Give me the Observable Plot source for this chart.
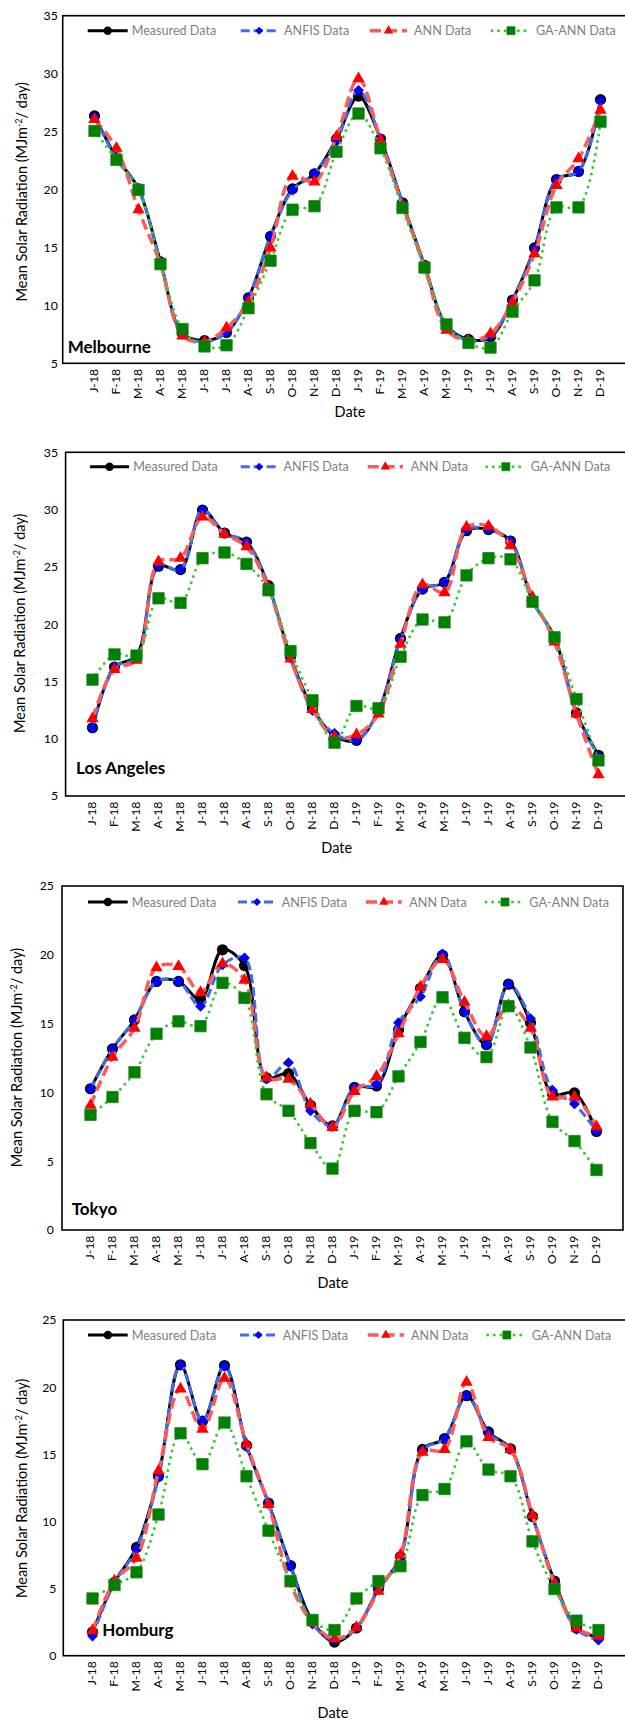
<!DOCTYPE html>
<html>
<head>
<meta charset="utf-8">
<script src="https://cdn.jsdelivr.net/npm/d3@7"></script>
<script src="https://cdn.jsdelivr.net/npm/@observablehq/plot@0.6"></script>
<style>
  html, body { margin: 0; padding: 0; background: #fff; }
  body { width: 625px; height: 1720px; overflow: hidden; position: relative; }
  #chart { position: relative; width: 625px; height: 1720px; }
  #chart svg { position: absolute; left: 0; }
</style>
</head>
<body>
<div id="chart"></div>
<script>
// Month ticks, January 2018 to December 2019
const monthLabels = ["J-18","F-18","M-18","A-18","M-18","J-18","J-18","A-18","S-18","O-18","N-18","D-18",
                     "J-19","F-19","M-19","A-19","M-19","J-19","J-19","A-19","S-19","O-19","N-19","D-19"];
const seriesNames = ["Measured Data", "ANFIS Data", "ANN Data", "GA-ANN Data"];
const cityNames = ["Melbourne", "Los Angeles", "Tokyo", "Homburg"];

// Monthly mean solar radiation (MJ m^-2 / day)
const melbourneMeasured = [26.4, 22.8, 20.1, 13.8, 7.6, 7.0, 7.7, 10.7, 16.0, 20.1, 21.4, 24.4, 28.1, 24.4, 18.9, 13.5, 8.3, 7.1, 7.3, 10.5, 15.0, 20.9, 21.6, 27.8];
const melbourneAnfis    = [26.3, 22.7, 20.1, 13.8, 7.6, 6.9, 7.7, 10.7, 16.0, 20.0, 21.4, 24.2, 28.6, 24.4, 18.9, 13.4, 8.3, 7.0, 7.4, 10.5, 14.9, 20.9, 21.6, 27.7];
const melbourneAnn      = [26.1, 23.6, 18.3, 13.6, 7.4, 6.9, 8.1, 10.3, 15.0, 21.2, 20.7, 24.6, 29.6, 24.3, 18.7, 13.4, 7.9, 7.0, 7.6, 10.3, 14.5, 20.4, 22.7, 26.9];
const melbourneGaAnn    = [25.1, 22.6, 20.0, 13.6, 8.0, 6.5, 6.6, 9.8, 13.9, 18.3, 18.6, 23.3, 26.6, 23.6, 18.45, 13.3, 8.4, 6.8, 6.4, 9.5, 12.2, 18.5, 18.5, 25.9];

const laMeasured = [11.0, 16.3, 17.3, 25.1, 24.8, 30.0, 28.0, 27.2, 23.4, 17.2, 12.7, 10.3, 9.9, 12.5, 18.8, 23.1, 23.7, 28.2, 28.3, 27.3, 22.1, 18.9, 12.3, 8.6];
const laAnfis    = [11.0, 16.3, 17.1, 25.1, 24.8, 30.0, 28.0, 27.2, 23.3, 17.1, 12.5, 10.5, 9.9, 12.5, 18.7, 23.1, 23.7, 28.3, 28.3, 27.3, 22.1, 18.8, 12.2, 8.5];
const laAnn      = [11.8, 16.1, 16.9, 25.5, 25.8, 29.4, 27.9, 26.8, 23.2, 17.0, 12.6, 10.2, 10.4, 12.2, 18.3, 23.5, 22.8, 28.5, 28.6, 26.9, 22.4, 18.5, 12.2, 6.9];
const laGaAnn    = [15.2, 17.4, 17.3, 22.3, 21.9, 25.8, 26.3, 25.3, 23.0, 17.7, 13.4, 9.7, 12.9, 12.7, 17.2, 20.45, 20.2, 24.3, 25.8, 25.7, 22.0, 18.9, 13.5, 8.15];

const tokyoMeasured = [10.3, 13.2, 15.3, 18.1, 18.1, 16.8, 20.4, 19.25, 11.1, 11.4, 9.1, 7.6, 10.4, 10.5, 14.6, 17.6, 20.0, 15.9, 13.5, 17.9, 15.1, 9.9, 10.0, 7.2];
const tokyoAnfis    = [10.3, 13.2, 15.3, 18.1, 18.1, 16.3, 19.3, 19.8, 11.0, 12.2, 8.7, 7.6, 10.4, 10.6, 15.1, 17.0, 20.1, 15.9, 13.5, 17.9, 15.4, 10.2, 9.2, 7.2];
const tokyoAnn      = [9.1, 12.6, 14.7, 19.1, 19.2, 17.3, 19.4, 18.2, 11.1, 11.0, 9.2, 7.5, 10.1, 11.2, 14.3, 17.7, 19.7, 16.6, 14.1, 16.35, 14.7, 9.7, 9.7, 7.55];
const tokyoGaAnn    = [8.4, 9.7, 11.5, 14.3, 15.2, 14.85, 18.0, 16.9, 9.9, 8.7, 6.35, 4.5, 8.7, 8.6, 11.2, 13.7, 16.95, 14.0, 12.6, 16.3, 13.3, 7.9, 6.5, 4.4];

const homburgMeasured = [1.8, 5.5, 8.1, 13.4, 21.7, 17.5, 21.65, 15.7, 11.4, 6.75, 2.6, 1.05, 2.1, 5.0, 7.4, 15.4, 16.2, 19.4, 16.7, 15.45, 10.4, 5.6, 2.1, 1.4];
const homburgAnfis    = [1.5, 5.5, 8.0, 13.3, 21.7, 17.5, 21.6, 15.6, 11.4, 6.7, 2.4, 1.2, 2.1, 5.0, 7.4, 15.3, 16.2, 19.4, 16.6, 15.4, 10.4, 5.5, 2.0, 1.2];
const homburgAnn      = [1.9, 5.6, 7.3, 13.8, 19.9, 16.9, 20.7, 15.8, 11.3, 5.4, 2.5, 1.3, 2.15, 4.85, 7.55, 15.2, 15.4, 20.4, 16.3, 15.4, 10.5, 5.4, 2.1, 1.5];
const homburgGaAnn    = [4.3, 5.3, 6.25, 10.55, 16.6, 14.3, 17.4, 13.4, 9.35, 5.6, 2.7, 1.95, 4.3, 5.6, 6.7, 12.0, 12.45, 16.0, 13.9, 13.4, 8.55, 5.0, 2.65, 1.95];

// Line and marker styling for each series
const seriesStyles = [
  {stroke: "#000000", width: 3,   dash: null,    cap: "butt",  symbol: "circle",   fill: "#000000", r: 5.6, legendR: 4.2},
  {stroke: "#3d6cf4", width: 3,   dash: "9,4",   cap: "butt",  symbol: "diamond2", fill: "#0000ff", r: 4.9, legendR: 3.6},
  {stroke: "#ff5a5a", width: 3.5, dash: "11,5",  cap: "butt",  symbol: "triangle", fill: "#ff0000", r: 4.6, legendR: 3.5},
  {stroke: "#33cc33", width: 3,   dash: "0,6.6", cap: "round", symbol: "square",   fill: "#008000", r: 6.4, legendR: 4.6, mstroke: "#1f7f1f"}
];

// Panel layout (page coordinates)
const panels = [
  {top: 0, height: 430, frame: {l: 62.7, t: 15.7, b: 363.3, r: 631}, xr: [74, 619.3], yd: [5, 35], yPad: 5.4,
   legendY: 30.7, legend: [[87.7, 127.7, 131.7], [240.7, 277.7, 284], [370, 407, 414], [492, 530, 536]],
   city: [67.7, 352.5], date: [350, 416.5], ylab: [21.7, 191.7],
   data: [melbourneMeasured, melbourneAnfis, melbourneAnn, melbourneGaAnn]},
  {top: 430, height: 430, frame: {l: 65.6, t: 452.3, b: 796, r: 628}, xr: [77.3, 613.3], yd: [5, 35], yPad: 8,
   legendY: 466.7, legend: [[90, 129, 133.3], [240.7, 277.7, 283.5], [367.7, 403, 410.7], [486.7, 525, 530.7]],
   city: [76, 774], date: [336.7, 853], ylab: [20, 623.3],
   data: [laMeasured, laAnfis, laAnn, laGaAnn]},
  {top: 860, height: 435, frame: {l: 62, t: 886, b: 1230, r: 623}, xr: [74, 611.7], yd: [0, 25], yPad: 8.5,
   legendY: 902, legend: [[88, 127.7, 131.7], [238, 276, 281.7], [366, 401.7, 409.3], [486, 524, 529.3]],
   city: [71.7, 1215], date: [333, 1288], ylab: [16.7, 1057.5],
   data: [tokyoMeasured, tokyoAnfis, tokyoAnn, tokyoGaAnn]},
  {top: 1295, height: 425, frame: {l: 63.3, t: 1320, b: 1655.7, r: 629}, xr: [75, 615], yd: [0, 25], yPad: 7.3,
   legendY: 1335, legend: [[88, 127.7, 131.7], [240, 277, 282.7], [367.7, 404, 411], [487.7, 526, 531.7]],
   city: [102.3, 1635.5], date: [333, 1718], ylab: [21.7, 1488.3],
   data: [homburgMeasured, homburgAnfis, homburgAnn, homburgGaAnn]}
];

const fontFamily = "Lato, 'Open Sans', sans-serif";
const chart = document.getElementById("chart");

panels.forEach((p, k) => {
  const t0 = p.top;
  const marks = p.data.flatMap((vals, s) => {
    const st = seriesStyles[s];
    return [
      Plot.line(vals, {x: (d, i) => i, y: d => d, curve: "catmull-rom",
        stroke: st.stroke, strokeWidth: st.width, strokeDasharray: st.dash, strokeLinecap: st.cap}),
      Plot.dot(vals, {x: (d, i) => i, y: d => d, symbol: st.symbol, r: st.r,
        fill: st.fill, stroke: st.mstroke || "none", strokeWidth: 0.8})
    ];
  });

  const svg = Plot.plot({
    width: 625,
    height: p.height,
    marginLeft: p.frame.l,
    marginRight: 0,
    marginTop: p.frame.t - t0,
    marginBottom: p.height - (p.frame.b - t0),
    style: {fontFamily, fontSize: "12.3px", color: "#000", background: "transparent", overflow: "hidden"},
    x: {type: "point", domain: d3.range(monthLabels.length), range: p.xr,
        tickSize: 0, tickPadding: 5, tickRotate: -90, tickFormat: i => monthLabels[i], label: null},
    y: {domain: p.yd, range: [p.frame.b - t0, p.frame.t - t0],
        ticks: d3.range(p.yd[0], p.yd[1] + 1, 5), tickSize: 0, tickPadding: p.yPad, label: null},
    marks
  });
  svg.style.top = t0 + "px";
  chart.appendChild(svg);

  const g = d3.select(svg).append("g").attr("font-family", fontFamily);

  // plot-area border
  g.append("rect")
    .attr("x", p.frame.l).attr("y", p.frame.t - t0)
    .attr("width", p.frame.r - p.frame.l).attr("height", p.frame.b - p.frame.t)
    .attr("fill", "none").attr("stroke", "#000").attr("stroke-width", 1.6);

  // legend
  p.legend.forEach(([x1, x2, tx], s) => {
    const st = seriesStyles[s];
    const ly = p.legendY - t0;
    g.append("line").attr("x1", x1).attr("x2", x2).attr("y1", ly).attr("y2", ly)
      .attr("stroke", st.stroke).attr("stroke-width", st.width)
      .attr("stroke-dasharray", st.dash).attr("stroke-linecap", st.cap);
    const symbolType = {circle: d3.symbolCircle, diamond2: d3.symbolDiamond2, triangle: d3.symbolTriangle, square: d3.symbolSquare}[st.symbol];
    g.append("path")
      .attr("d", d3.symbol(symbolType, Math.PI * st.legendR * st.legendR)())
      .attr("transform", `translate(${(x1 + x2) / 2},${ly})`)
      .attr("fill", st.fill).attr("stroke", st.mstroke || "none").attr("stroke-width", 0.6);
    g.append("text").attr("x", tx).attr("y", ly).attr("dy", "0.36em")
      .attr("text-anchor", "start").attr("font-size", 12.6).attr("fill", "#7f7f7f")
      .text(seriesNames[s]);
  });

  // city name
  g.append("text").attr("x", p.city[0]).attr("y", p.city[1] - t0)
    .attr("text-anchor", "start").attr("font-size", 17).attr("font-weight", "bold").attr("fill", "#000")
    .text(cityNames[k]);

  // x-axis title
  g.append("text").attr("x", p.date[0]).attr("y", p.date[1] - t0)
    .attr("text-anchor", "middle").attr("font-size", 14.5).attr("fill", "#000")
    .text("Date");

  // y-axis title with superscript
  const yt = g.append("text")
    .attr("transform", `translate(${p.ylab[0]},${p.ylab[1] - t0}) rotate(-90)`)
    .attr("text-anchor", "middle").attr("dy", "0.36em").attr("font-size", 14.5).attr("fill", "#000");
  yt.append("tspan").text("Mean Solar Radiation (MJm");
  yt.append("tspan").attr("dy", -5).attr("font-size", 9).text("-2");
  yt.append("tspan").attr("dy", 5).text("/ day)");
});
</script>
</body>
</html>
